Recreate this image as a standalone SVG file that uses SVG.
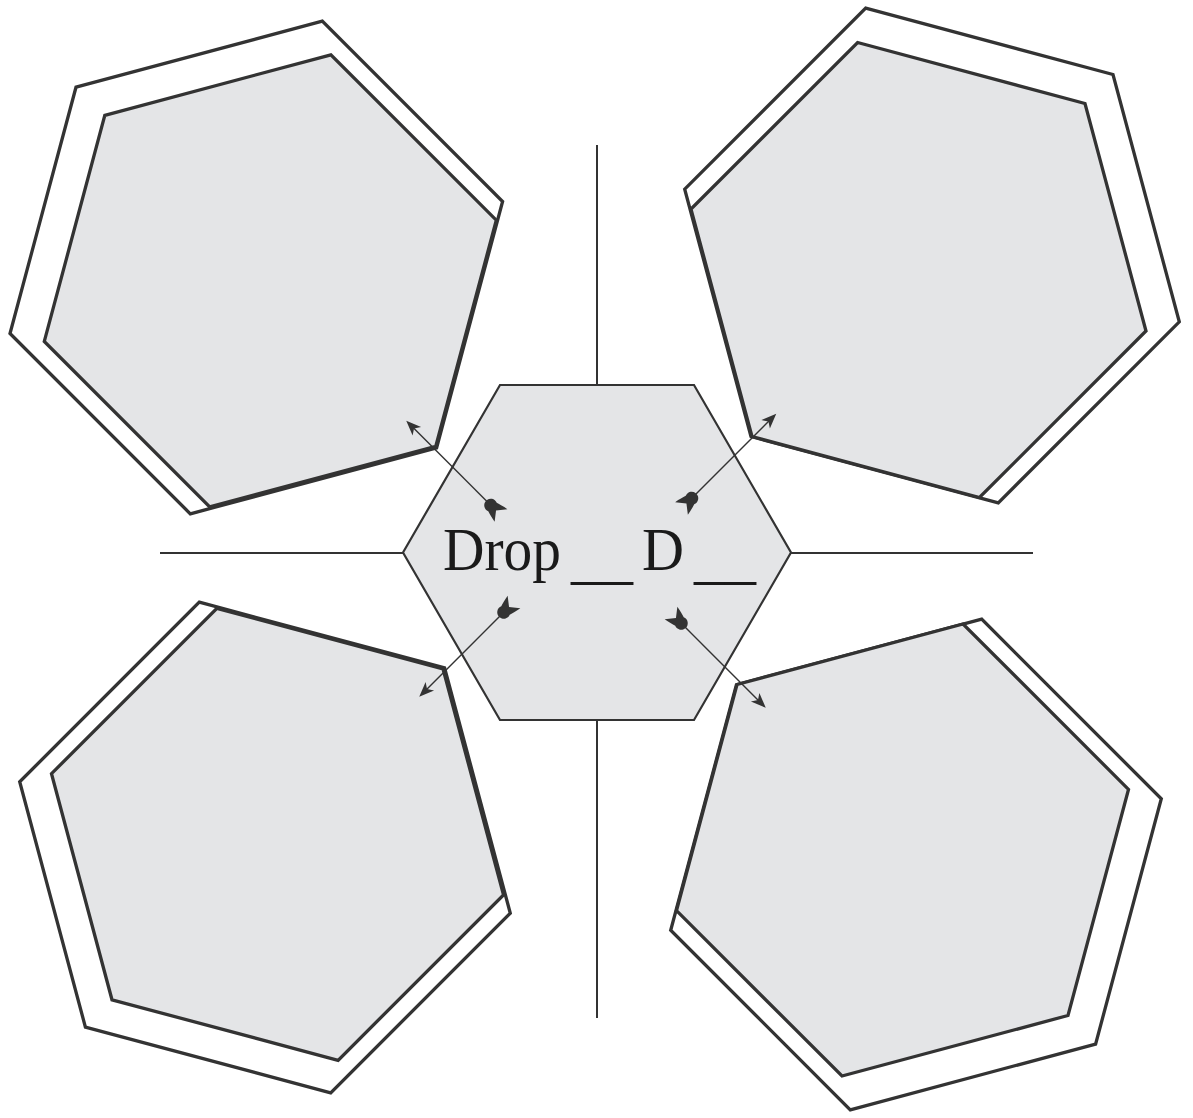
<svg xmlns="http://www.w3.org/2000/svg" width="1193" height="1118" viewBox="0 0 1193 1118">
<style>
.back{fill:#ffffff;stroke:#333333;stroke-width:3.3;stroke-linejoin:miter}
.front{fill:#e4e5e7;stroke:#333333;stroke-width:3.3;stroke-linejoin:miter}
.center{fill:#e4e5e7;stroke:#333333;stroke-width:2.2}
.axis{stroke:#333333;stroke-width:2;fill:none}
.shaft{stroke:#333333;stroke-width:1.4;fill:none}
.tip{fill:#333333}
.lbl{font-family:"Liberation Serif","Times New Roman",serif;font-size:62px;fill:#1a1a1a}
</style>
<defs>
<path id="fletch" d="M0,-9 L7,0 L0,9 C5,8 9,7 12,6 A6.5,6.5 0 1 0 12,-6 C9,-7 5,-8 0,-9 Z"/>
<path id="head" d="M134,0 L119,-6 L123,0 L119,6 Z"/>
</defs>
<g id="axes">
<line class="axis" x1="597" y1="145" x2="597" y2="385"/>
<line class="axis" x1="597" y1="720" x2="597" y2="1018"/>
<line class="axis" x1="160" y1="553" x2="403" y2="553"/>
<line class="axis" x1="791" y1="553" x2="1033" y2="553"/>
</g>
<g id="node-top-left">
<polygon class="back" points="436.6,447.8 190.3,513.8 10.0,333.5 76.0,87.2 322.3,21.2 502.6,201.5"/>
<polygon class="front" points="435.8,446.3 209.7,506.8 44.3,341.4 104.8,115.3 330.9,54.8 496.3,220.2"/>
</g>
<g id="node-top-right">
<polygon class="back" points="751.0,436.5 684.7,189.2 865.7,8.2 1113.0,74.5 1179.3,321.8 998.3,502.8"/>
<polygon class="front" points="752.0,436.5 691.0,209.1 857.6,42.5 1085.0,103.5 1146.0,331.0 979.5,497.5"/>
</g>
<g id="node-bottom-left">
<polygon class="back" points="444.6,667.9 510.3,913.2 330.7,1092.8 85.4,1027.1 19.7,781.8 199.3,602.2"/>
<polygon class="front" points="443.0,668.8 503.5,894.9 338.1,1060.3 112.0,999.8 51.5,773.7 216.9,608.3"/>
</g>
<g id="node-bottom-right">
<polygon class="back" points="736.4,684.9 981.7,619.2 1161.3,798.8 1095.6,1044.1 850.3,1109.8 670.7,930.2"/>
<polygon class="front" points="737.0,684.5 963.1,624.0 1128.5,789.4 1068.0,1015.5 842.0,1076.0 676.5,910.6"/>
</g>
<g id="node-center">
<polygon class="center" points="403,552.5 500,385 694,385 791,552.5 694,720 500,720"/>
<text class="lbl"><tspan x="443" y="570" textLength="118" lengthAdjust="spacingAndGlyphs">Drop</tspan><tspan x="571" y="577" textLength="62" lengthAdjust="spacingAndGlyphs">__</tspan><tspan x="642" y="570" textLength="42" lengthAdjust="spacingAndGlyphs">D</tspan><tspan x="694" y="577" textLength="62" lengthAdjust="spacingAndGlyphs">__</tspan></text>
</g>
<g id="connectors">
<g transform="translate(501,515.5) rotate(-135)">
<line class="shaft" x1="18" y1="0" x2="124" y2="0"/><use href="#fletch" class="tip"/><use href="#head" class="tip"/>
</g>
<g transform="translate(681.5,508.5) rotate(-45)">
<line class="shaft" x1="18" y1="0" x2="124" y2="0"/><use href="#fletch" class="tip"/><use href="#head" class="tip"/>
</g>
<g transform="translate(514,602) rotate(135)">
<line class="shaft" x1="18" y1="0" x2="124" y2="0"/><use href="#fletch" class="tip"/><use href="#head" class="tip"/>
</g>
<g transform="translate(671,613) rotate(45)">
<line class="shaft" x1="18" y1="0" x2="124" y2="0"/><use href="#fletch" class="tip"/><use href="#head" class="tip"/>
</g>
</g>
</svg>
